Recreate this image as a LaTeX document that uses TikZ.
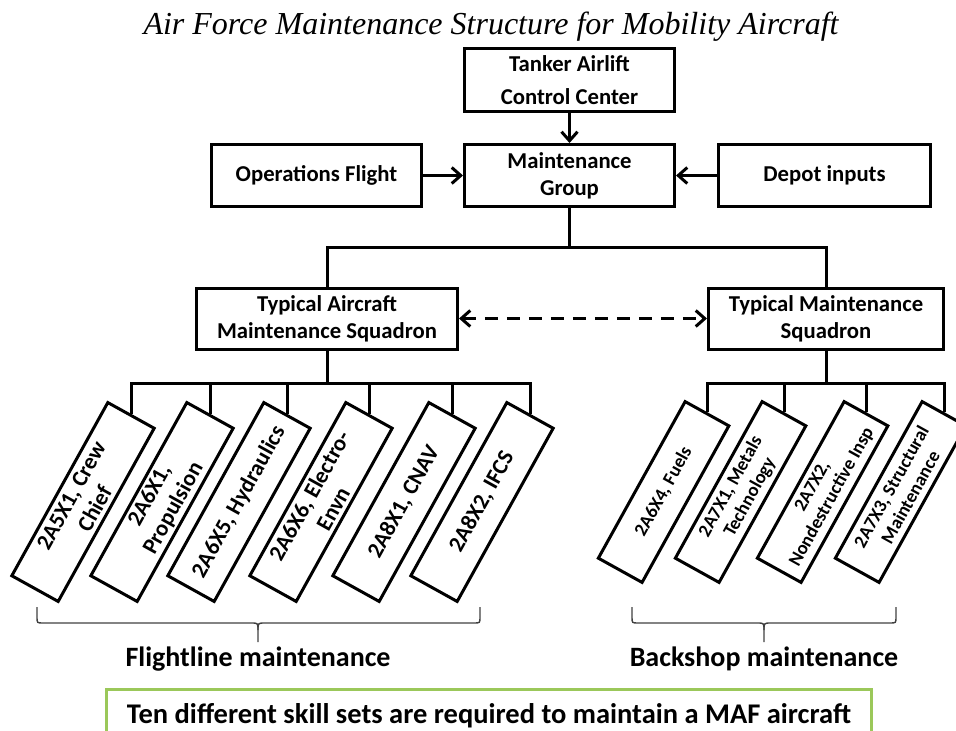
\documentclass[tikz,border=0pt]{standalone}
\usepackage{fontspec}
\setmainfont{Carlito}
\newfontfamily\titlefont{Liberation Serif}
\usetikzlibrary{arrows.meta}
\definecolor{boxgreen}{RGB}{155,200,90}

\begin{document}
\begin{tikzpicture}[
        x=1pt, y=-1pt,
        >={Straight Barb[length=9pt,width=16pt]},
        link/.style={line width=3pt},
        unit/.style={draw, line width=3pt, align=center, inner sep=2pt,
          font=\bfseries\fontsize{22.7}{27}\selectfont},
        skill/.style={draw, line width=3pt, align=center, inner sep=2pt,
          rotate=61, minimum width=198pt, minimum height=53pt,
          font=\bfseries\fontsize{22.7}{27}\selectfont},
        shop/.style={skill, minimum width=179pt, minimum height=50pt,
          font=\bfseries\fontsize{18.7}{22}\selectfont},
        bracket/.style={line width=1.4pt, black!75},
        caption/.style={anchor=base, font=\bfseries\fontsize{28}{33}\selectfont}]
        \useasboundingbox (0,0) rectangle (956,731);
        % title
        \node[anchor=base, font=\titlefont\itshape\fontsize{32}{38}\selectfont]
          (title) at (491,34) {Air Force Maintenance Structure for Mobility Aircraft};
        % top boxes
        \node[unit, minimum width=210pt, minimum height=63pt,
          font=\bfseries\fontsize{22.7}{33}\selectfont]
          (TACC) at (569.5,80) {Tanker Airlift\\Control Center};
        \node[unit, minimum width=210pt, minimum height=62pt] (MG) at (569.5,175.5) {Maintenance\\Group};
        \node[unit, minimum width=210pt, minimum height=62pt] (OF) at (316.5,175.5) {Operations Flight};
        \node[unit, minimum width=212pt, minimum height=62pt] (DI) at (824.5,175.5) {Depot inputs};
        \draw[link,->] (TACC) -- (MG);
        \draw[link,->] (OF) -- (MG);
        \draw[link,->] (DI) -- (MG);
        % squadrons
        \node[unit, minimum width=261pt, minimum height=61pt] (AMXS) at (327,318.5) {Typical Aircraft\\Maintenance Squadron};
        \node[unit, minimum width=235pt, minimum height=61pt] (MXS) at (826,318.5) {Typical Maintenance\\Squadron};
        \coordinate (bus) at (569.5,247);
        \draw[link] (MG) -- (bus);
        \draw[link] (AMXS.north) |- (bus) -| (MXS.north);
        \draw[link,<->,dash pattern=on 13pt off 9pt] (AMXS) -- (MXS);
        % flightline skills
        \node[skill] (FL1) at (83,502) {2A5X1, Crew\\Chief};
        \node[skill] (FL2) at (162,502) {2A6X1,\\Propulsion};
        \node[skill] (FL3) at (239,502) {2A6X5, Hydraulics};
        \node[skill] (FL4) at (321,502) {2A6X6, Electro-\\Envn};
        \node[skill] (FL5) at (404,502) {2A8X1, CNAV};
        \node[skill] (FL6) at (482,502) {2A8X2, IFCS};
        \coordinate (flbus) at (327,383);
        \draw[link] (AMXS) -- (flbus);
        \draw[link] (FL1.east) |- (flbus) -| (FL6.east);
        \foreach \n in {2,...,5}
          \draw[link] (FL\n.east) -- (FL\n.east |- flbus);
        % backshop skills
        \node[shop] (BS1) at (663.6,492) {2A6X4, Fuels};
        \node[shop] (BS2) at (740.6,492) {2A7X1, Metals\\Technology};
        \node[shop] (BS3) at (822.6,492) {2A7X2,\\Nondestructive Insp};
        \node[shop] (BS4) at (900.6,492) {2A7X3, Structural\\Maintenance};
        \coordinate (bsbus) at (826,383);
        \draw[link] (MXS) -- (bsbus);
        \draw[link] (BS1.east) |- (bsbus) -| (BS4.east);
        \foreach \n in {2,3}
          \draw[link] (BS\n.east) -- (BS\n.east |- bsbus);
        % braces
        \draw[bracket] (37,607) -- (37,617) .. controls (37,623) .. (43,623) -- (251,623)
          .. controls (258,623) .. (258,630) -- (258,642);
        \draw[bracket] (480,607) -- (480,617) .. controls (480,623) .. (474,623) -- (265,623)
          .. controls (258,623) .. (258,630);
        \draw[bracket] (632,607) -- (632,617) .. controls (632,623) .. (638,623) -- (757,623)
          .. controls (764,623) .. (764,630) -- (764,642);
        \draw[bracket] (896,607) -- (896,617) .. controls (896,623) .. (890,623) -- (771,623)
          .. controls (764,623) .. (764,630);
        \node[caption] (FLM) at (258,666) {Flightline maintenance};
        \node[caption] (BSM) at (764,666) {Backshop maintenance};
        % summary
        \node[draw=boxgreen, line width=3pt, minimum width=765pt, minimum height=52pt,
          font=\bfseries\fontsize{28.5}{33}\selectfont]
          (SK) at (489,715.5) {Ten different skill sets are required to maintain a MAF aircraft};
\end{tikzpicture}
\end{document}
